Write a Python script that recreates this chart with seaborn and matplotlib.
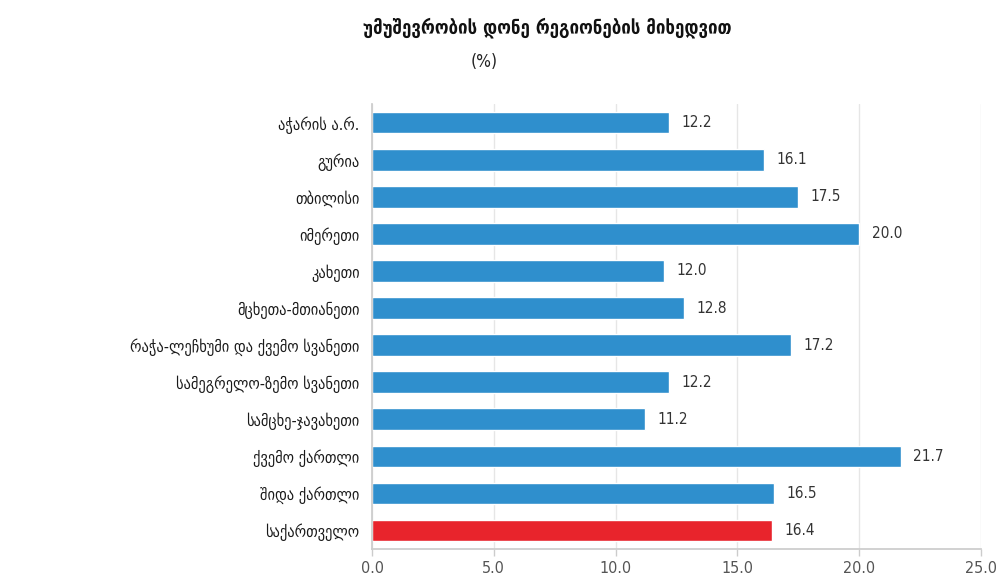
import matplotlib
matplotlib.use("Agg")
import matplotlib.pyplot as plt
import seaborn as sns
import pandas as pd

regions = ["აჭარის ა.რ.", "გურია", "თბილისი", "იმერეთი", "კახეთი",
           "მცხეთა-მთიანეთი", "რაჭა-ლეჩხუმი და ქვემო სვანეთი",
           "სამეგრელო-ზემო სვანეთი", "სამცხე-ჯავახეთი", "ქვემო ქართლი",
           "შიდა ქართლი", "საქართველო"]
rates = [12.2, 16.1, 17.5, 20.0, 12.0, 12.8, 17.2, 12.2, 11.2, 21.7, 16.5, 16.4]
title = "უმუშევრობის დონე რეგიონების მიხედვით"
subtitle = "(%)"

blue = "#2f8fcd"
red = "#e8242c"
colors = [blue] * (len(regions) - 1) + [red]

df = pd.DataFrame({"region": regions, "rate": rates})

sns.set_theme(style="white")
plt.rcParams["font.family"] = ["DejaVu Sans"]
plt.rcParams["font.stretch"] = "condensed"

fig = plt.figure(figsize=(9.99, 5.79), dpi=100)
ax = fig.add_axes([0.3724, 0.052, 0.6096, 0.768])

sns.barplot(data=df, x="rate", y="region", hue="region", palette=colors,
            saturation=1, legend=False, orient="h", width=0.58, ax=ax)

for c in ax.containers:
    ax.bar_label(c, fmt="%.1f", padding=9, fontsize=11, color="#333333")

ax.set_xlim(0, 25)
ax.set_ylim(11.5, -0.5)
ax.set_xticks([0, 5, 10, 15, 20, 25])
ax.set_xticklabels(["0.0", "5.0", "10.0", "15.0", "20.0", "25.0"])
ax.set_xlabel("")
ax.set_ylabel("")
ax.xaxis.grid(True, color="#e6e6e6", linewidth=1)
ax.set_axisbelow(True)
for s in ["top", "right"]:
    ax.spines[s].set_visible(False)
ax.spines["left"].set_color("#cccccc")
ax.spines["bottom"].set_color("#cccccc")
ax.tick_params(axis="x", colors="#cccccc", labelsize=11.5, length=5, width=1,
               bottom=True, labelcolor="#555555")
ax.tick_params(axis="y", labelsize=11.5, length=0, pad=9, labelcolor="#1a1a1a")

fig.text(0.548, 0.952, title, ha="center", va="center", fontsize=13.5,
         fontweight="bold", color="#111111")
fig.text(0.485, 0.893, subtitle, ha="center", va="center", fontsize=12.5,
         color="#222222")

fig.savefig("out.png", dpi=100)
